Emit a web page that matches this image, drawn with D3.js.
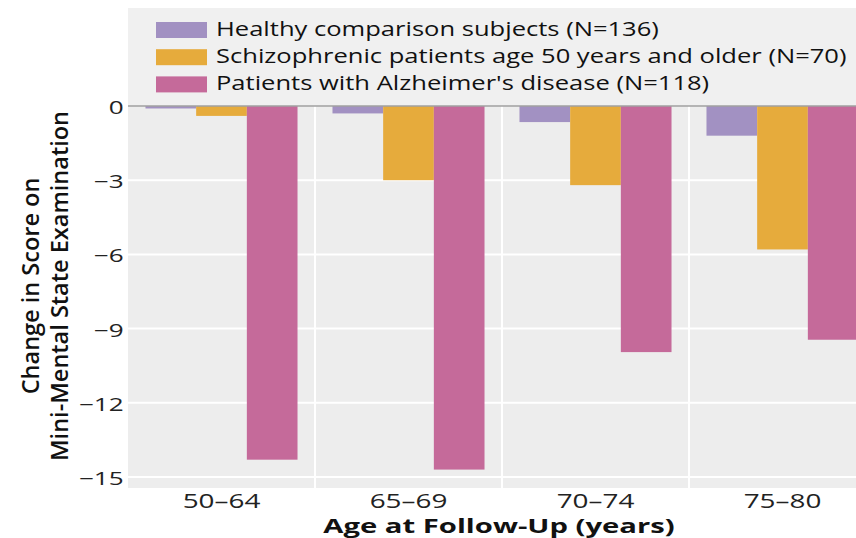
<!DOCTYPE html>
<html><head><meta charset="utf-8">
<script src="https://cdn.jsdelivr.net/npm/d3@7"></script>
<style>body{margin:0;background:#fff}svg{display:block}text{font-family:"Open Sans","Noto Sans",sans-serif}</style>
</head><body>
<svg id="c" width="856" height="538"></svg>
<script>
const categories = ["50–64","65–69","70–74","75–80"];
const seriesNames = ["Healthy comparison subjects (N=136)","Schizophrenic patients age 50 years and older (N=70)","Patients with Alzheimer's disease (N=118)"];
const healthy = [-0.1,-0.3,-0.65,-1.2];
const schizo = [-0.4,-3.0,-3.2,-5.8];
const alz = [-14.3,-14.7,-9.95,-9.45];
const yTicks = [0,-3,-6,-9,-12,-15];
const colors = ["#a291c2","#e6ab3c","#c56a9a"];
const series = [healthy, schizo, alz];

const svg = d3.select("#c");
const pL = 128, pR = 876, pT = 8, pB = 488;
const x = d3.scaleBand().domain(categories).range([pL,pR]).paddingInner(0).paddingOuter(0);
const y = d3.scaleLinear().domain([-15,0]).range([477,106]);
const inner = d3.scaleBand().domain([0,1,2]).range([0, x.bandwidth()]).paddingOuter(0.345).paddingInner(0);

svg.append("rect").attr("x",pL).attr("y",pT).attr("width",pR-pL).attr("height",pB-pT).attr("fill","#ededed");
svg.append("rect").attr("x",pL).attr("y",pT).attr("width",pR-pL).attr("height",y(0)-pT).attr("fill","#f0f0f0");

svg.append("g").selectAll("line").data(yTicks.filter(d=>d!==0)).join("line")
  .attr("x1",pL).attr("x2",pR).attr("y1",d=>y(d)).attr("y2",d=>y(d))
  .attr("stroke","#fff").attr("stroke-width",2);
svg.append("g").selectAll("line").data(categories.slice(1)).join("line")
  .attr("x1",d=>x(d)).attr("x2",d=>x(d)).attr("y1",y(0)).attr("y2",pB)
  .attr("stroke","#fff").attr("stroke-width",2);

categories.forEach((c,i)=>{
  series.forEach((s,j)=>{
    svg.append("rect").attr("x",x(c)+inner(j)).attr("width",inner.bandwidth())
      .attr("y",y(0)).attr("height",y(s[i])-y(0)).attr("fill",colors[j]);
  });
});
svg.append("line").attr("x1",pL).attr("x2",pR).attr("y1",y(0)).attr("y2",y(0)).attr("stroke","#a0a0a0").attr("stroke-width",1.5);

// y axis
const ySX = 1.45;
const yAxis = d3.axisLeft(y).tickValues(yTicks).tickSize(0).tickFormat(d=>d===0?"0":"−"+Math.abs(d));
const ga = svg.append("g").attr("transform",`translate(${pL},0)`).call(yAxis);
ga.select(".domain").remove();
ga.selectAll("text").attr("font-size",18).attr("fill","#222").attr("x",-3).attr("dy","0.42em")
  .attr("transform",`scale(${ySX},1)`).style("font-family",'"Open Sans","Noto Sans",sans-serif');

// x axis
const xSX = 1.36;
const xAxis = d3.axisBottom(x).tickSize(0);
const gx = svg.append("g").attr("transform",`translate(0,${pB})`).call(xAxis);
gx.select(".domain").remove();
gx.selectAll("text").attr("font-size",20.5).attr("fill","#222").attr("y",20).attr("dy",0)
  .attr("transform",`scale(${xSX},1)`).style("font-family",'"Open Sans","Noto Sans",sans-serif');

// x title
svg.append("g").attr("transform","translate(499,533) scale(1.5,1)")
  .append("text").attr("text-anchor","middle").attr("font-size",19.5).attr("font-weight","bold").attr("fill","#111").text("Age at Follow-Up (years)");

// y title
const yt = svg.append("text").attr("transform","translate(0,286) rotate(-90)").attr("text-anchor","middle").attr("font-size",23.5).attr("font-weight",600).attr("fill","#111");
yt.append("tspan").attr("x",0).attr("y",39).text("Change in Score on");
yt.append("tspan").attr("x",0).attr("y",68).text("Mini-Mental State Examination");

// legend
const lg = svg.append("g");
seriesNames.forEach((n,i)=>{
  lg.append("rect").attr("x",156).attr("y",22+i*27.2).attr("width",51).attr("height",16).attr("fill",colors[i]);
  lg.append("g").attr("transform",`translate(216,${35.5+i*27.3}) scale(1.31,1)`)
    .append("text").attr("font-size",19.5).attr("fill","#111").text(n);
});
</script>
</body></html>
